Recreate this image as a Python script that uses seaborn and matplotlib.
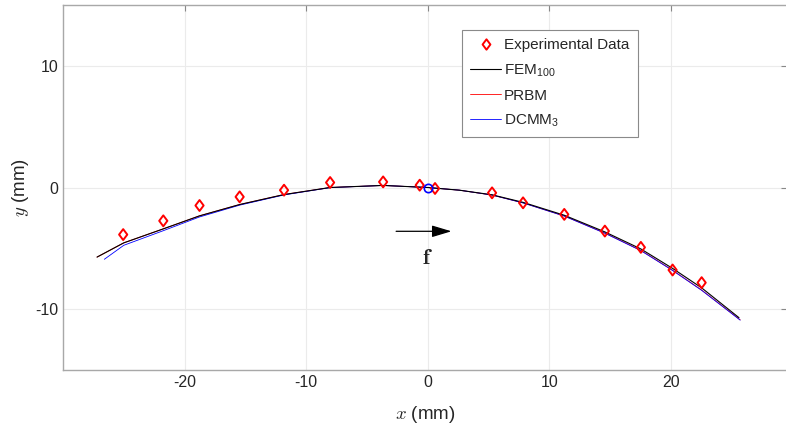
import matplotlib
matplotlib.use("Agg")
import matplotlib.pyplot as plt
import seaborn as sns
import pandas as pd
from matplotlib.lines import Line2D
from matplotlib.path import Path

# ---- data ----
exp_x = [-25.05, -21.75, -18.77, -15.47, -11.82, -8.03, -3.67, -0.66, 0.60,
         5.29, 7.84, 11.23, 14.57, 17.53, 20.14, 22.53]
exp_y = [-3.87, -2.74, -1.48, -0.77, -0.22, 0.41, 0.46, 0.19, -0.08,
         -0.44, -1.26, -2.21, -3.58, -4.92, -6.78, -7.82]

fem_x = [-27.2, -25.0, -21.75, -18.77, -15.47, -11.82, -8.03, -3.67, 0.0,
         2.6, 5.29, 7.84, 11.23, 14.57, 17.53, 20.14, 22.53, 25.6]
fem_y = [-5.72, -4.55, -3.40, -2.33, -1.40, -0.58, 0.0, 0.17, 0.0,
         -0.22, -0.60, -1.22, -2.28, -3.65, -5.05, -6.65, -8.25, -10.7]

prbm_x = [-27.2, -25.0, -21.75, -18.77, -15.47, -11.82, -8.03, -3.67, 0.0,
          2.6, 5.29, 7.84, 11.23, 14.57, 17.53, 20.14, 22.53, 25.7]
prbm_y = [-5.72, -4.55, -3.40, -2.33, -1.40, -0.58, 0.0, 0.17, 0.0,
          -0.22, -0.62, -1.26, -2.34, -3.74, -5.17, -6.80, -8.43, -10.88]

dcmm_x = [-26.6, -25.0, -21.75, -18.77, -15.47, -11.82, -8.03, -3.67, 0.0,
          2.6, 5.29, 7.84, 11.23, 14.57, 17.53, 20.14, 22.53, 25.7]
dcmm_y = [-5.90, -4.75, -3.55, -2.42, -1.45, -0.61, -0.01, 0.17, 0.0,
          -0.22, -0.62, -1.27, -2.35, -3.76, -5.19, -6.82, -8.45, -10.90]

origin_x = [0.0]
origin_y = [0.0]

legend_labels = ["Experimental Data", r"FEM$_{100}$", "PRBM", r"DCMM$_3$"]
xticks = [-20, -10, 0, 10, 20]
yticks = [-10, 0, 10]

sns.set_theme(style="white")
plt.rcParams["font.family"] = ["Liberation Sans", "DejaVu Sans"]
plt.rcParams["mathtext.fontset"] = "custom"
plt.rcParams["mathtext.rm"] = "Liberation Sans"
plt.rcParams["mathtext.it"] = "Liberation Sans:italic"
plt.rcParams["mathtext.bf"] = "Liberation Sans:bold"

diamond = Path([(0, 1), (0.75, 0), (0, -1), (-0.75, 0), (0, 1)],
               [Path.MOVETO, Path.LINETO, Path.LINETO, Path.LINETO, Path.CLOSEPOLY])

RED = "#ff0000"
BLUE = "#0000ff"

fig = plt.figure(figsize=(7.86, 4.34), dpi=100)
ax = fig.add_axes([63 / 786, 1 - 370 / 434, (787 - 63) / 786, (370 - 5) / 434])

df_exp = pd.DataFrame({"x": exp_x, "y": exp_y})
df_fem = pd.DataFrame({"x": fem_x, "y": fem_y})
df_prbm = pd.DataFrame({"x": prbm_x, "y": prbm_y})
df_dcmm = pd.DataFrame({"x": dcmm_x, "y": dcmm_y})

sns.lineplot(data=df_prbm, x="x", y="y", ax=ax, sort=False, color=RED,
             linewidth=0.6, zorder=2, legend=False)
sns.lineplot(data=df_dcmm, x="x", y="y", ax=ax, sort=False, color=BLUE,
             linewidth=0.6, zorder=2, legend=False)
sns.lineplot(data=df_fem, x="x", y="y", ax=ax, sort=False, color="black",
             linewidth=0.8, zorder=3, legend=False)
sns.scatterplot(data=df_exp, x="x", y="y", ax=ax, marker=diamond, s=62,
                facecolor="none", edgecolor=RED, linewidth=1.4,
                zorder=5, legend=False)
ax.plot(origin_x, origin_y, marker="o", markersize=6, markerfacecolor="none",
        markeredgecolor=BLUE, markeredgewidth=1.2, linestyle="none",
        zorder=6)

ax.set_xlim(-30.0, 29.55)
ax.set_ylim(-15, 15)
ax.set_xticks(xticks)
ax.set_yticks(yticks)
ax.set_xticklabels([str(t) for t in xticks])
ax.set_yticklabels([str(t) for t in yticks])
ax.tick_params(direction="in", length=4, width=0.8, color="#888888",
               labelsize=11.5, labelcolor="#262626", top=True, right=True)
ax.grid(True, color="#ebebeb", linewidth=0.8)
for sp in ax.spines.values():
    sp.set_color("#a8a8a8")
    sp.set_linewidth(1.0)

ax.set_xlabel(r"$x$ (mm)", fontsize=13.5, labelpad=10)
ax.set_ylabel(r"$y$ (mm)", fontsize=13.5, labelpad=3)
ax.xaxis.label.set_math_fontfamily("cm")
ax.yaxis.label.set_math_fontfamily("cm")

# force arrow and label
ax.annotate("", xy=(1.95, -3.6), xytext=(-2.6, -3.6),
            arrowprops=dict(arrowstyle="-|>,head_length=1.0,head_width=0.3",
                            color="black", lw=0.9, shrinkA=0, shrinkB=0))
ax.text(0.0, -5.8, r"$\mathbf{f}$", fontsize=16, ha="center", va="center",
        math_fontfamily="cm")

handles = [
    Line2D([], [], marker=diamond, markersize=7.5, markerfacecolor="none",
           markeredgecolor=RED, markeredgewidth=1.4, linestyle="none"),
    Line2D([], [], color="black", linewidth=0.8),
    Line2D([], [], color=RED, linewidth=0.6),
    Line2D([], [], color=BLUE, linewidth=0.6),
]
leg = ax.legend(handles, legend_labels, loc="upper left",
                bbox_to_anchor=((462 - 63) / 724, 1 - (30 - 5) / 365),
                fontsize=11, frameon=True, fancybox=False, edgecolor="#8a8a8a",
                handlelength=2.0, handletextpad=0.2, borderpad=0.55,
                labelspacing=0.65, borderaxespad=0)
leg.get_frame().set_linewidth(0.8)
leg.get_frame().set_facecolor("white")
leg.get_frame().set_alpha(1.0)

fig.savefig("out.png", dpi=100)
